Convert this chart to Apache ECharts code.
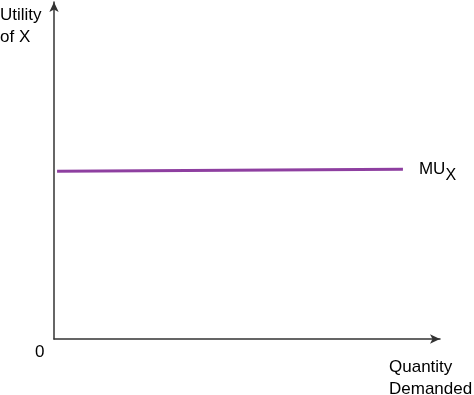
<!DOCTYPE html>
<html><head><meta charset="utf-8">
<script src="https://cdn.jsdelivr.net/npm/echarts@6/dist/echarts.min.js"></script>
<style>html,body{margin:0;padding:0;background:#fff}#c{width:474px;height:395px}</style>
</head><body><div id="c"></div>
<script>
const xValues = [0.8, 90.4];
const muValues = [49.8, 50.4];
const seriesName = 'MU';
const yAxisTitle = 'Utility\nof X';
const xAxisTitle = 'Quantity\nDemanded';
const originLabel = '0';

const FONT = 'Liberation Sans, Arial';
const chart = echarts.init(document.getElementById('c'));
chart.setOption({
  animation: false,
  grid: {left: 54, right: 34, top: 2, bottom: 56},
  xAxis: {type: 'value', min: 0, max: 100, splitLine: {show: false}, axisTick: {show: false}, axisLabel: {show: false},
    axisLine: {lineStyle: {color: '#333', width: 1.5}, symbol: ['none', 'arrow'], symbolSize: [7, 10]}},
  yAxis: {type: 'value', min: 0, max: 100, splitLine: {show: false}, axisTick: {show: false}, axisLabel: {show: false},
    axisLine: {lineStyle: {color: '#333', width: 1.5}, symbol: ['none', 'arrow'], symbolSize: [7, 10]}},
  series: [{
    type: 'line', name: seriesName, showSymbol: false,
    data: xValues.map((x, i) => [x, muValues[i]]),
    lineStyle: {color: '#8e3fa0', width: 3},
    endLabel: {show: true, distance: 16, formatter: '{a|MU}{b|X}',
      rich: {a: {fontFamily: FONT, fontSize: 17, color: '#000'},
             b: {fontFamily: FONT, fontSize: 16, color: '#000', padding: [12, 0, 0, 0]}}}
  }],
  graphic: [
    {type: 'text', left: 0, top: 4, style: {text: yAxisTitle, fontFamily: FONT, fontSize: 17, lineHeight: 22, fill: '#000'}},
    {type: 'text', left: 35, top: 344, style: {text: originLabel, fontFamily: FONT, fontSize: 17, fill: '#000'}},
    {type: 'text', left: 389, top: 356, style: {text: xAxisTitle, fontFamily: FONT, fontSize: 17, lineHeight: 22, fill: '#000'}}
  ]
});
</script></body></html>
